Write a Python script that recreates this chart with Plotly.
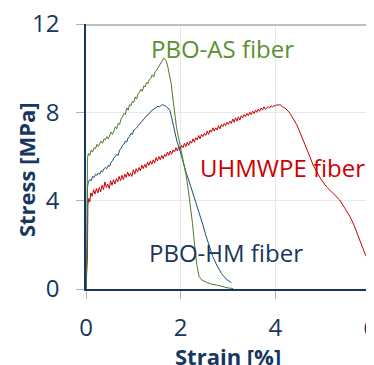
import plotly.graph_objects as go

# PBO-AS fiber
as_strain = [0, 0.02, 0.03, 0.05, 0.08, 0.11, 0.14, 0.17, 0.20, 0.23, 0.26, 0.29, 0.32, 0.35, 0.38, 0.41, 0.44, 0.47, 0.50, 0.53, 0.56, 0.59, 0.62, 0.65, 0.68, 0.71, 0.74, 0.77, 0.80, 0.83, 0.86, 0.89, 0.92, 0.95, 0.98, 1.01, 1.04, 1.07, 1.10, 1.13, 1.16, 1.19, 1.22, 1.25, 1.28, 1.31, 1.34, 1.37, 1.40, 1.43, 1.46, 1.49, 1.52, 1.55, 1.58, 1.61, 1.64, 1.67, 1.70, 1.73, 1.77, 1.80, 1.84, 1.88, 1.91, 1.96, 2.01, 2.06, 2.12, 2.16, 2.19, 2.22, 2.25, 2.28, 2.30, 2.34, 2.39, 2.45, 2.55, 2.65, 2.76, 2.90, 3.00, 3.11]
as_stress = [0, 1.5, 5.9, 6.15, 6.05, 6.3, 6.2, 6.4, 6.35, 6.55, 6.45, 6.6, 6.7, 6.6, 6.8, 6.75, 6.9, 6.8, 6.95, 7.1, 7.0, 7.2, 7.35, 7.25, 7.5, 7.45, 7.7, 7.8, 7.95, 7.9, 8.2, 8.1, 8.35, 8.3, 8.5, 8.45, 8.7, 8.6, 8.85, 8.9, 9.05, 8.95, 9.2, 9.15, 9.35, 9.3, 9.5, 9.55, 9.7, 9.6, 9.85, 9.9, 10.0, 10.1, 10.2, 10.35, 10.45, 10.4, 10.3, 10.05, 9.6, 9.3, 8.56, 7.9, 7.35, 6.8, 6.3, 5.7, 5.09, 4.5, 4.03, 3.5, 2.97, 2.3, 1.77, 1.1, 0.56, 0.4, 0.3, 0.22, 0.18, 0.1, 0.05, 0.02]

# PBO-HM fiber
hm_strain = [0, 0.02, 0.03, 0.05, 0.08, 0.11, 0.14, 0.17, 0.20, 0.23, 0.26, 0.29, 0.32, 0.35, 0.38, 0.41, 0.44, 0.47, 0.50, 0.53, 0.56, 0.59, 0.62, 0.65, 0.68, 0.71, 0.74, 0.77, 0.80, 0.83, 0.86, 0.89, 0.92, 0.95, 0.98, 1.01, 1.04, 1.07, 1.10, 1.13, 1.16, 1.19, 1.22, 1.25, 1.28, 1.31, 1.34, 1.37, 1.40, 1.43, 1.46, 1.49, 1.52, 1.55, 1.58, 1.61, 1.64, 1.67, 1.70, 1.73, 1.77, 1.80, 1.84, 1.87, 1.92, 1.98, 2.05, 2.12, 2.19, 2.26, 2.33, 2.40, 2.47, 2.54, 2.61, 2.68, 2.77, 2.86, 2.96, 3.07]
hm_stress = [0, 2.0, 4.6, 4.85, 4.95, 4.9, 5.1, 5.05, 5.2, 5.15, 5.25, 5.2, 5.35, 5.3, 5.45, 5.5, 5.45, 5.6, 5.55, 5.75, 5.8, 5.95, 6.0, 6.1, 6.05, 6.3, 6.35, 6.5, 6.55, 6.7, 6.65, 6.85, 6.9, 7.05, 7.0, 7.2, 7.25, 7.3, 7.4, 7.45, 7.55, 7.6, 7.7, 7.75, 7.85, 7.9, 7.95, 8.05, 8.1, 8.15, 8.2, 8.22, 8.28, 8.25, 8.3, 8.35, 8.33, 8.3, 8.25, 8.2, 8.1, 7.85, 7.45, 7.05, 6.7, 6.3, 5.75, 5.24, 4.8, 4.33, 3.9, 3.43, 2.9, 2.37, 1.9, 1.46, 1.05, 0.71, 0.45, 0.29]

# UHMWPE fiber
pe_strain = [0, 0.03, 0.04, 0.06, 0.08, 0.10, 0.13, 0.16, 0.19, 0.22, 0.25, 0.28, 0.31, 0.34, 0.37, 0.40, 0.43, 0.46, 0.49, 0.52, 0.55, 0.58, 0.61, 0.64, 0.67, 0.70, 0.73, 0.76, 0.79, 0.82, 0.85, 0.88, 0.91, 0.94, 0.97, 1.00, 1.03, 1.06, 1.09, 1.12, 1.15, 1.18, 1.21, 1.24, 1.27, 1.30, 1.33, 1.36, 1.39, 1.42, 1.45, 1.48, 1.51, 1.54, 1.57, 1.60, 1.63, 1.66, 1.69, 1.72, 1.75, 1.78, 1.81, 1.84, 1.87, 1.90, 1.93, 1.96, 1.99, 2.02, 2.05, 2.08, 2.11, 2.14, 2.17, 2.20, 2.23, 2.26, 2.29, 2.32, 2.35, 2.38, 2.41, 2.44, 2.47, 2.50, 2.53, 2.56, 2.59, 2.62, 2.65, 2.68, 2.71, 2.74, 2.77, 2.80, 2.83, 2.86, 2.89, 2.92, 2.95, 2.98, 3.01, 3.04, 3.07, 3.10, 3.13, 3.16, 3.19, 3.22, 3.25, 3.28, 3.31, 3.34, 3.37, 3.40, 3.43, 3.46, 3.49, 3.52, 3.55, 3.58, 3.61, 3.64, 3.67, 3.70, 3.73, 3.76, 3.79, 3.82, 3.85, 3.88, 3.91, 3.94, 3.97, 4.00, 4.03, 4.06, 4.10, 4.15, 4.20, 4.25, 4.31, 4.38, 4.45, 4.52, 4.59, 4.66, 4.73, 4.80, 4.87, 4.95, 5.08, 5.22, 5.36, 5.47, 5.58, 5.67, 5.75, 5.82, 5.89, 5.95, 6.0, 6.05]
pe_stress = [0, 1.5, 3.8, 4.1, 3.95, 4.35, 4.2, 4.5, 4.3, 4.55, 4.35, 4.6, 4.4, 4.7, 4.5, 4.85, 4.6, 4.75, 4.55, 4.9, 4.7, 4.95, 4.75, 5.0, 4.85, 5.1, 4.9, 5.15, 4.95, 5.2, 5.05, 5.3, 5.1, 5.25, 5.1, 5.4, 5.2, 5.45, 5.3, 5.5, 5.35, 5.6, 5.45, 5.65, 5.5, 5.75, 5.6, 5.8, 5.65, 5.85, 5.7, 5.95, 5.8, 6.0, 5.85, 6.05, 5.9, 6.1, 6.0, 6.2, 6.05, 6.25, 6.1, 6.3, 6.2, 6.4, 6.25, 6.45, 6.3, 6.5, 6.4, 6.6, 6.45, 6.65, 6.5, 6.7, 6.6, 6.8, 6.65, 6.85, 6.75, 6.95, 6.8, 7.0, 6.9, 7.05, 6.95, 7.15, 7.0, 7.2, 7.1, 7.3, 7.15, 7.3, 7.2, 7.4, 7.25, 7.45, 7.35, 7.5, 7.4, 7.55, 7.45, 7.6, 7.5, 7.7, 7.55, 7.75, 7.6, 7.8, 7.65, 7.85, 7.75, 7.9, 7.8, 7.95, 7.85, 8.0, 7.9, 8.05, 7.95, 8.1, 8.0, 8.15, 8.05, 8.2, 8.1, 8.25, 8.15, 8.2, 8.25, 8.2, 8.3, 8.25, 8.3, 8.28, 8.35, 8.32, 8.35, 8.25, 8.2, 8.1, 7.96, 7.7, 7.45, 7.1, 6.75, 6.35, 5.99, 5.6, 5.3, 5.02, 4.63, 4.33, 4.03, 3.65, 3.27, 2.85, 2.37, 1.98, 1.62, 1.35, 1.16, 0.95]

labels = ["PBO-AS fiber", "UHMWPE fiber", "PBO-HM fiber"]
label_x = [2.88, 4.15, 2.95]
label_y = [10.91, 5.48, 1.65]

x_ticks = [0, 2, 4, 6]
y_ticks = [0, 4, 8, 12]
x_title = "Strain [%]"
y_title = "Stress [MPa]"

NAVY = "#17375e"
GREEN_LINE = "#4f7a28"
GREEN_TEXT = "#5b9032"
BLUE_LINE = "#1f4e79"
RED = "#cc0000"
FRAME = "#bfbfbf"
FONT = "Open Sans"

fig = go.Figure()
fig.add_trace(go.Scatter(x=pe_strain, y=pe_stress, mode="lines",
                         line=dict(color=RED, width=1), showlegend=False))
fig.add_trace(go.Scatter(x=hm_strain, y=hm_stress, mode="lines",
                         line=dict(color=BLUE_LINE, width=1), showlegend=False))
fig.add_trace(go.Scatter(x=as_strain, y=as_stress, mode="lines",
                         line=dict(color=GREEN_LINE, width=1), showlegend=False))

colors = [GREEN_TEXT, RED, NAVY]
for t, x, y, c in zip(labels, label_x, label_y, colors):
    fig.add_annotation(x=x, y=y, text=t, showarrow=False,
                       font=dict(family=FONT, size=24, color=c))

# axis titles
fig.add_annotation(xref="paper", yref="paper", x=0.5, y=-0.253, text="<b>" + x_title + "</b>",
                   showarrow=False, xanchor="center", yanchor="middle",
                   font=dict(family=FONT, size=22, color=NAVY))
fig.add_annotation(xref="paper", yref="paper", x=-0.211, y=0.449, text="<b>" + y_title + "</b>",
                   showarrow=False, xanchor="center", yanchor="middle", textangle=-90,
                   font=dict(family=FONT, size=22, color=NAVY))

# gray frame lines on top and right (just inside the plot edge)
fig.add_shape(type="line", xref="paper", yref="paper", x0=0, x1=1, y0=0.996, y1=0.996,
              line=dict(color=FRAME, width=2), layer="above")
fig.add_shape(type="line", xref="paper", yref="paper", x0=0.996, x1=0.996, y0=0, y1=1,
              line=dict(color=FRAME, width=2), layer="above")

common_tick = dict(family=FONT, size=24, color=NAVY)

# page body adds 8px offset, so the figure is 8px smaller on each dimension
fig.update_layout(
    width=366, height=357,
    margin=dict(l=78, r=4, t=16, b=76, autoexpand=False),
    plot_bgcolor="white", paper_bgcolor="white",
    font=dict(family=FONT, color=NAVY),
    xaxis=dict(range=[0, 6], tickvals=x_ticks, ticks="outside", ticklen=8, tickcolor="#a9b3c1",
               showline=True, linecolor=NAVY, linewidth=1.5, automargin=False,
               showgrid=True, gridcolor="#e8e8e8", gridwidth=1, zeroline=False,
               tickfont=common_tick, ticklabelstandoff=8, ticklabeloverflow="allow"),
    yaxis=dict(range=[0, 12], tickvals=y_ticks, ticks="outside", ticklen=8, tickcolor="#a9b3c1",
               showline=True, linecolor=NAVY, linewidth=1.5, automargin=False,
               showgrid=True, gridcolor="#e8e8e8", gridwidth=1, zeroline=False,
               tickfont=common_tick, ticklabelstandoff=12, ticklabeloverflow="allow"),
)

fig.write_html("out.html", config={"displayModeBar": False})
